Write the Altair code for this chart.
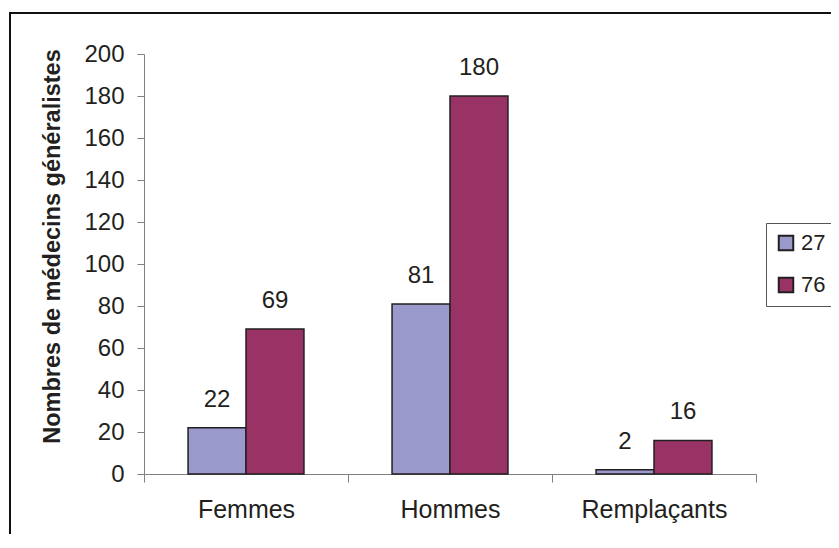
import altair as alt
import pandas as pd

categories = ["Femmes", "Hommes", "Remplaçants"]
series = ["27", "76"]
values_27 = [22, 81, 2]
values_76 = [69, 180, 16]
y_ticks = [0, 20, 40, 60, 80, 100, 120, 140, 160, 180, 200]
colors = ["#9999cc", "#993366"]

rows = []
for c, a, b in zip(categories, values_27, values_76):
    rows.append({"categorie": c, "serie": series[0], "valeur": a})
    rows.append({"categorie": c, "serie": series[1], "valeur": b})
df = pd.DataFrame(rows)

FONT = "Liberation Sans"
TXT = "#231f20"
AX = "#808080"

base = alt.Chart(df).encode(
    x=alt.X(
        "categorie:N",
        sort=categories,
        scale=alt.Scale(paddingInner=0, paddingOuter=0),
        axis=alt.Axis(
            title=None,
            labelAngle=0,
            labelFontSize=25,
            labelColor=TXT,
            labelPadding=15,
            tickBand="extent",
            tickSize=8,
            tickColor=AX,
            domainColor=AX,
            grid=False,
        ),
    ),
    xOffset=alt.XOffset(
        "serie:N", sort=series, scale=alt.Scale(paddingOuter=0.76, paddingInner=0)
    ),
    y=alt.Y(
        "valeur:Q",
        scale=alt.Scale(domain=[0, 200], nice=False),
        axis=alt.Axis(
            values=y_ticks,
            title="Nombres de médecins généralistes",
            titleFontSize=23.5,
            titleFontWeight="bold",
            titleColor=TXT,
            titleX=-92,
            titleY=192,
            titleAlign="center",
            titleBaseline="middle",
            titleAngle=270,
            labelFontSize=24,
            labelColor=TXT,
            labelPadding=13,
            tickSize=7,
            tickColor=AX,
            domainColor=AX,
            grid=False,
        ),
    ),
)

bars = base.mark_bar(stroke=TXT, strokeWidth=1.5).encode(
    color=alt.Color(
        "serie:N",
        sort=series,
        scale=alt.Scale(domain=series, range=colors),
        legend=alt.Legend(
            title=None,
            orient="none",
            legendX=622,
            legendY=169,
            strokeColor="#555555",
            fillColor="white",
            padding=9,
            symbolType="square",
            symbolSize=210,
            symbolStrokeColor=TXT,
            symbolStrokeWidth=2,
            labelFontSize=22,
            labelColor=TXT,
            labelOffset=4,
            rowPadding=18,
        ),
    )
)

labels = base.mark_text(baseline="alphabetic", dy=-21, fontSize=24, color=TXT).encode(
    text="valeur:Q"
)

frame = (
    alt.Chart(pd.DataFrame({"a": [0]}))
    .mark_rect(fillOpacity=0, stroke="#111111", strokeWidth=2)
    .encode(
        x=alt.value(-134),
        x2=alt.value(1000),
        y=alt.value(-41),
        y2=alt.value(1000),
    )
)

chart = (
    alt.layer(frame, bars, labels)
    .properties(
        width=612,
        height=420,
        autosize=alt.AutoSizeParams(type="none"),
        padding={"left": 136, "top": 46, "right": 75, "bottom": 60},
    )
    .configure(font=FONT)
    .configure_view(stroke=None)
)

chart.save("out.html", embed_options={"renderer": "svg", "actions": False})
